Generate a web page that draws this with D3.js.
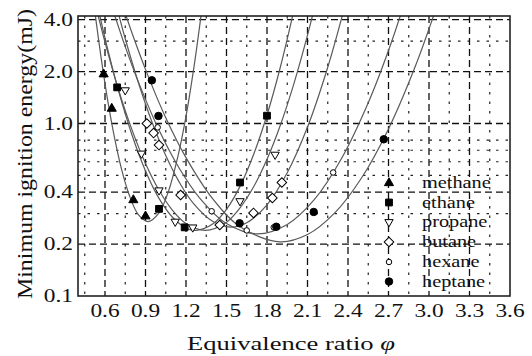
<!DOCTYPE html>
<html>
<head>
<meta charset="utf-8">
<script src="https://cdn.jsdelivr.net/npm/d3@7"></script>
<style>
  body { margin: 0; background: #fff; }
  text { font-family: "Liberation Serif", "DejaVu Serif", serif; fill: #111; }
</style>
</head>
<body>
<div id="chart"></div>
<script>
// tick values
var xTicks = [0.6, 0.9, 1.2, 1.5, 1.8, 2.1, 2.4, 2.7, 3.0, 3.3, 3.6];
var xMinor = [0.45, 0.75, 1.05, 1.35, 1.65, 1.95, 2.25, 2.55, 2.85, 3.15, 3.45];
var yTicks = [0.1, 0.2, 0.4, 1.0, 2.0, 4.0];
var yMinor = [0.3, 0.5, 0.6, 0.7, 0.8, 3.0];

var fuels = ["methane", "ethane", "propane", "butane", "hexane", "heptane"];

// measured points [phi, mJ]
var methanePts = [[0.59, 1.93], [0.65, 1.22], [0.81, 0.36], [0.90, 0.29]];
var ethanePts = [[0.69, 1.62], [1.00, 0.32], [1.19, 0.25], [1.60, 0.455], [1.80, 1.11]];
var propanePts = [[0.75, 1.56], [0.87, 0.67], [1.00, 0.41], [1.12, 0.27], [1.25, 0.25], [1.60, 0.355], [1.86, 0.66]];
var butanePts = [[0.91, 1.0], [0.96, 0.88], [1.0, 0.75], [1.16, 0.385], [1.45, 0.258], [1.70, 0.303], [1.84, 0.37], [1.91, 0.455]];
var hexanePts = [[0.99, 0.95], [1.39, 0.31], [1.65, 0.24], [1.85, 0.25], [2.29, 0.52]];
var heptanePts = [[0.947, 1.78], [0.996, 1.106], [1.597, 0.264], [1.869, 0.252], [2.146, 0.307], [2.665, 0.81]];

// fitted curves
var methaneFit = [[0.51, 5.5], [0.53, 4.14], [0.57, 2.44], [0.62, 1.36], [0.67, 0.83], [0.72, 0.553], [0.78, 0.384], [0.85, 0.294], [0.92, 0.27], [1.0, 0.303], [1.07, 0.404], [1.14, 0.645], [1.2, 1.10], [1.26, 2.15], [1.31, 4.14], [1.33, 5.5]];
var ethaneFit = [[0.53, 5.47], [0.6, 3.13], [0.7, 1.55], [0.8, 0.857], [0.9, 0.531], [1.0, 0.368], [1.1, 0.286], [1.2, 0.248], [1.276, 0.24], [1.4, 0.262], [1.5, 0.318], [1.6, 0.432], [1.7, 0.659], [1.8, 1.12], [1.9, 2.14], [2.0, 4.56], [2.03, 5.85]];
var propaneFit = [[0.52, 5.23], [0.6, 2.96], [0.7, 1.57], [0.8, 0.918], [0.9, 0.586], [1.0, 0.41], [1.1, 0.314], [1.2, 0.263], [1.343, 0.24], [1.5, 0.268], [1.6, 0.324], [1.7, 0.428], [1.8, 0.62], [1.9, 0.984], [2.0, 1.71], [2.1, 3.25], [2.17, 5.39]];
var butaneFit = [[0.68, 4.97], [0.75, 3.10], [0.85, 1.70], [0.95, 1.01], [1.05, 0.652], [1.15, 0.457], [1.25, 0.348], [1.4, 0.27], [1.531, 0.251], [1.65, 0.266], [1.8, 0.338], [1.95, 0.518], [2.1, 0.954], [2.25, 2.12], [2.38, 4.9]];
var hexaneFit = [[0.65, 4.77], [0.75, 2.79], [0.85, 1.72], [1.0, 0.916], [1.15, 0.55], [1.3, 0.371], [1.5, 0.263], [1.73, 0.229], [1.95, 0.26], [2.15, 0.362], [2.35, 0.623], [2.55, 1.32], [2.7, 2.65], [2.82, 5.04]];
var heptaneFit = [[0.73, 4.84], [0.8, 3.35], [0.9, 2.06], [1.05, 1.08], [1.2, 0.634], [1.4, 0.364], [1.6, 0.252], [1.895, 0.206], [2.1, 0.227], [2.3, 0.302], [2.5, 0.483], [2.7, 0.93], [2.9, 2.16], [3.06, 4.84]];

var svgWidth = 532;
var svgHeight = 356;

var margin = { top: 16, right: 22, bottom: 60, left: 78 };
var width = svgWidth - margin.left - margin.right;
var height = svgHeight - margin.top - margin.bottom;

var svg = d3.select("#chart")
  .append("svg")
  .attr("width", svgWidth)
  .attr("height", svgHeight);

var chartGroup = svg.append("g")
  .attr("transform", `translate(${margin.left}, ${margin.top})`);

var xScale = d3.scaleLinear().domain([0.4, 3.6]).range([0, width]);
var yScale = d3.scaleLog().domain([0.1, 4.2]).range([height, 0]);

// grid lines
chartGroup.selectAll(".xminor").data(xMinor).enter().append("line")
  .attr("x1", d => xScale(d)).attr("x2", d => xScale(d))
  .attr("y1", 0).attr("y2", height)
  .attr("stroke", "#222").attr("stroke-width", 1.2)
  .attr("stroke-dasharray", "2.5,7");

chartGroup.selectAll(".yminor").data(yMinor).enter().append("line")
  .attr("x1", 0).attr("x2", width)
  .attr("y1", d => yScale(d)).attr("y2", d => yScale(d))
  .attr("stroke", "#222").attr("stroke-width", 1.2)
  .attr("stroke-dasharray", "2.5,7");

chartGroup.selectAll(".xmajor").data(xTicks.slice(0, -1)).enter().append("line")
  .attr("x1", d => xScale(d)).attr("x2", d => xScale(d))
  .attr("y1", 0).attr("y2", height)
  .attr("stroke", "#111").attr("stroke-width", 1.3)
  .attr("stroke-dasharray", "7,4");

chartGroup.selectAll(".ymajor").data(yTicks.slice(1)).enter().append("line")
  .attr("x1", 0).attr("x2", width)
  .attr("y1", d => yScale(d)).attr("y2", d => yScale(d))
  .attr("stroke", "#111").attr("stroke-width", 1.3)
  .attr("stroke-dasharray", "7,4");

// fitted curves
chartGroup.append("clipPath").attr("id", "plotClip")
  .append("rect").attr("width", width).attr("height", height);

var line = d3.line()
  .x(d => xScale(d[0]))
  .y(d => yScale(d[1]))
  .curve(d3.curveCatmullRom);

var fits = [methaneFit, ethaneFit, propaneFit, butaneFit, hexaneFit, heptaneFit];
chartGroup.append("g").attr("clip-path", "url(#plotClip)")
  .selectAll("path").data(fits).enter().append("path")
  .attr("d", line)
  .attr("fill", "none")
  .attr("stroke", "#5a5a5a")
  .attr("stroke-width", 1.2);

// frame
chartGroup.append("rect")
  .attr("width", width).attr("height", height)
  .attr("fill", "none").attr("stroke", "#222").attr("stroke-width", 1.6);

// markers
var markerStyle = {
  methane: { type: d3.symbolTriangle, size: 36, fill: "#000", rot: 0 },
  ethane: { type: d3.symbolSquare, size: 46, fill: "#000", rot: 0 },
  propane: { type: d3.symbolTriangle, size: 30, fill: "#fff", rot: 180 },
  butane: { type: d3.symbolSquare, size: 46, fill: "#fff", rot: 45 },
  hexane: { type: d3.symbolCircle, size: 24, fill: "#fff", rot: 0 },
  heptane: { type: d3.symbolCircle, size: 44, fill: "#000", rot: 0 }
};

function drawMarkers(group, pts, fuel) {
  var m = markerStyle[fuel];
  group.selectAll("path." + fuel).data(pts).enter().append("path")
    .attr("class", fuel)
    .attr("d", d3.symbol().type(m.type).size(m.size))
    .attr("transform", d => `translate(${xScale(d[0])}, ${yScale(d[1])}) rotate(${m.rot})`)
    .attr("fill", m.fill)
    .attr("stroke", "#000")
    .attr("stroke-width", 1);
}

var allPts = [methanePts, ethanePts, propanePts, butanePts, hexanePts, heptanePts];
var markGroup = chartGroup.append("g");
fuels.forEach((f, i) => drawMarkers(markGroup, allPts[i], f));

// legend
var legendRows = [183, 202.5, 222, 242, 262, 281.5];
var legend = svg.append("g");
fuels.forEach((f, i) => {
  var m = markerStyle[f];
  legend.append("path")
    .attr("d", d3.symbol().type(m.type).size(m.size))
    .attr("transform", `translate(389, ${legendRows[i]}) rotate(${m.rot})`)
    .attr("fill", m.fill)
    .attr("stroke", "#000");
  legend.append("text")
    .attr("transform", `translate(422, ${legendRows[i] + 5}) scale(1.27, 1)`)
    .style("font-size", "16px")
    .text(f);
});

// tick labels
svg.append("g").selectAll("text").data(xTicks).enter().append("text")
  .attr("transform", d => `translate(${margin.left + xScale(d)}, 317) scale(1.3, 1)`)
  .attr("text-anchor", "middle")
  .style("font-size", "18px")
  .text(d => d.toFixed(1));

svg.append("g").selectAll("text").data(yTicks).enter().append("text")
  .attr("transform", d => `translate(73, ${margin.top + yScale(d) + 6}) scale(1.3, 1)`)
  .attr("text-anchor", "end")
  .style("font-size", "18px")
  .text(d => d.toFixed(1));

// axis titles
var xTitle = svg.append("text")
  .attr("x", 291).attr("y", 350)
  .attr("text-anchor", "middle")
  .attr("textLength", 208)
  .attr("lengthAdjust", "spacingAndGlyphs")
  .style("font-size", "18px");
xTitle.append("tspan").text("Equivalence ratio  ");
xTitle.append("tspan").style("font-style", "italic").text("φ");

svg.append("text")
  .attr("transform", "translate(32, 154) rotate(-90)")
  .attr("text-anchor", "middle")
  .attr("textLength", 290)
  .attr("lengthAdjust", "spacingAndGlyphs")
  .style("font-size", "20px")
  .text("Minimum ignition energy(mJ)");
</script>
</body>
</html>
